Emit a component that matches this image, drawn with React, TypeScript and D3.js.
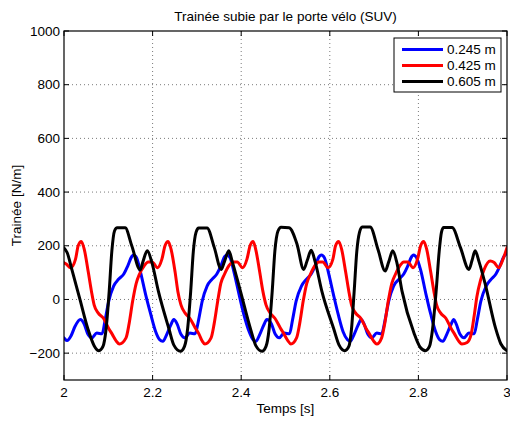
import React, { useEffect } from 'react';
import * as d3 from 'd3';

const title = 'Trainée subie par le porte vélo (SUV)';
const xLabel = 'Temps [s]';
const yLabel = 'Trainée [N/m]';
const xTicks = [2, 2.2, 2.4, 2.6, 2.8, 3];
const xTickLabels = ['2', '2.2', '2.4', '2.6', '2.8', '3'];
const yTicks = [-200, 0, 200, 400, 600, 800, 1000];
const yTickLabels = ['\u2212200', '0', '200', '400', '600', '800', '1000'];
const seriesNames = ['0.245 m', '0.425 m', '0.605 m'];
const seriesColors = ['#0000ff', '#ff0000', '#000000'];

const blueT = [2.000, 2.007, 2.016, 2.025, 2.037, 2.045, 2.054, 2.063, 2.074, 2.086, 2.093, 2.101,
  2.112, 2.123, 2.135, 2.144, 2.153, 2.157, 2.164, 2.173, 2.184, 2.196, 2.207, 2.216, 2.223, 2.232, 2.241, 2.248,
  2.255, 2.264, 2.273, 2.284, 2.296, 2.304, 2.312, 2.323, 2.334, 2.345, 2.354, 2.363, 2.368, 2.375, 2.384, 2.395,
  2.406, 2.418, 2.427, 2.433, 2.442, 2.451, 2.458,
  2.468, 2.477, 2.486, 2.497, 2.509, 2.516, 2.524, 2.536, 2.547, 2.558, 2.567, 2.576, 2.581, 2.588, 2.597, 2.608,
  2.619, 2.630, 2.640, 2.646, 2.655, 2.664, 2.671,
  2.677, 2.686, 2.695, 2.706, 2.717, 2.725, 2.733, 2.744, 2.756, 2.767, 2.776, 2.785, 2.789, 2.796, 2.805, 2.817,
  2.828, 2.839, 2.848, 2.855, 2.864, 2.873, 2.880,
  2.885, 2.894, 2.903, 2.914, 2.926, 2.933, 2.941, 2.953, 2.964, 2.975, 2.984, 2.993, 3.000];
const blueV = [-143, -153, -135, -100, -75, -90, -130, -143, -125, -128, -75, -6,
  50, 75, 95, 125, 160, 166, 155, 100, 20, -56, -120, -150, -156, -130, -95, -75,
  -90, -130, -143, -125, -128, -75, -6, 50, 75, 95, 125, 160, 166, 155, 100, 20,
  -56, -120, -150, -156, -130, -95, -75,
  -90, -130, -143, -125, -128, -75, -6, 50, 75, 95, 125, 160, 166, 155, 100, 20,
  -56, -120, -150, -156, -130, -95, -75,
  -90, -130, -143, -125, -128, -75, -6, 50, 75, 95, 125, 160, 166, 155, 110, 20,
  -56, -120, -150, -156, -130, -95, -75,
  -90, -130, -143, -125, -128, -75, -6, 50, 75, 95, 125, 160, 172];

const redT = [2.000, 2.005, 2.015, 2.026, 2.032, 2.039, 2.046, 2.055, 2.062, 2.068, 2.077, 2.089, 2.100, 2.109, 2.118, 2.125,
  2.140, 2.147, 2.155, 2.163, 2.170, 2.181, 2.190, 2.199, 2.211, 2.221, 2.228, 2.235, 2.242, 2.251, 2.257, 2.264,
  2.273, 2.284, 2.296, 2.305, 2.312, 2.318,
  2.332, 2.339, 2.347, 2.354, 2.362, 2.372, 2.381, 2.391, 2.403, 2.413, 2.420, 2.427, 2.433, 2.442, 2.449, 2.456,
  2.465, 2.476, 2.488, 2.497, 2.506, 2.512,
  2.525, 2.532, 2.540, 2.548, 2.556, 2.566, 2.575, 2.584, 2.596, 2.607, 2.613, 2.620, 2.627, 2.636, 2.643, 2.649,
  2.658, 2.670, 2.681, 2.690, 2.699, 2.706,
  2.717, 2.724, 2.732, 2.740, 2.748, 2.758, 2.767, 2.776, 2.788, 2.798, 2.805, 2.812, 2.819, 2.828, 2.835, 2.841,
  2.850, 2.862, 2.873, 2.882, 2.891, 2.898,
  2.910, 2.919, 2.926, 2.932, 2.940, 2.948, 2.962, 2.971, 2.981, 2.991, 3.000];
const redV = [137, 132, 118, 150, 200, 216, 185, 100, 30, -20, -50, -70, -105, -130, -155, -166,
  -143, -90, -6, 60, 93, 125, 140, 140, 118, 150, 200, 216, 185, 100, 30, -20,
  -50, -70, -105, -130, -155, -166,
  -143, -90, -6, 60, 93, 125, 140, 140, 118, 150, 200, 216, 185, 100, 30, -20,
  -50, -70, -105, -130, -155, -166,
  -143, -90, -6, 60, 93, 125, 140, 140, 118, 150, 200, 216, 185, 100, 30, -20,
  -50, -70, -105, -130, -155, -166,
  -143, -90, -6, 60, 93, 125, 140, 140, 118, 150, 200, 216, 185, 100, 30, -20,
  -50, -70, -105, -130, -155, -166,
  -160, -130, -60, 10, 70, 110, 143, 138, 118, 150, 193];

const blackT = [2.000, 2.007, 2.018, 2.036, 2.054, 2.068,
  2.079, 2.088, 2.095, 2.102, 2.108, 2.114, 2.120, 2.138, 2.153, 2.172, 2.178, 2.188, 2.198, 2.213, 2.237, 2.248,
  2.263, 2.272, 2.279, 2.286, 2.292, 2.298, 2.304, 2.323, 2.339, 2.355, 2.362, 2.372, 2.380, 2.396, 2.422, 2.433,
  2.447, 2.456, 2.463, 2.470, 2.476, 2.483, 2.490, 2.508, 2.526, 2.541, 2.549, 2.558, 2.567, 2.582, 2.609, 2.621,
  2.634, 2.643, 2.649, 2.655, 2.661, 2.667, 2.673, 2.691, 2.709, 2.725, 2.733, 2.742, 2.751, 2.763, 2.790, 2.804,
  2.816, 2.825, 2.832, 2.840, 2.847, 2.852, 2.857, 2.876, 2.895, 2.914, 2.921, 2.928, 2.937, 2.951, 2.974, 2.986, 3.000];
const blackV = [192, 175, 110, 0, -110, -172,
  -191, -175, -110, 30, 180, 255, 267, 267, 200, 110, 140, 181, 140, 31, -110, -170,
  -193, -175, -110, 30, 180, 250, 266, 266, 195, 112, 140, 181, 140, 45, -115, -172,
  -193, -175, -110, 30, 180, 255, 269, 267, 206, 112, 145, 183, 140, 31, -110, -170,
  -191, -175, -110, 30, 180, 250, 270, 270, 185, 106, 140, 181, 140, 31, -125, -178,
  -191, -175, -110, 30, 180, 250, 268, 268, 193, 112, 145, 181, 140, 56, -106, -165, -191];

const seriesT = [blueT, redT, blackT];
const seriesV = [blueV, redV, blackV];

const W = 510;
const H = 421;
const L = 64, R = 507, T = 31, B = 380;
const FONT = 'Liberation Sans, Arial, Helvetica, sans-serif';

export default function App() {
  useEffect(() => {
    document.body.style.margin = '0';
  }, []);
  const x = d3.scaleLinear().domain([2, 3]).range([L, R]);
  const y = d3.scaleLinear().domain([-300, 1000]).range([B, T]);
  const line = d3.line<[number, number]>()
    .x(d => x(d[0]))
    .y(d => y(d[1]))
    .curve(d3.curveMonotoneX);
  const tickLen = 5;
  const legX = 394, legY = 38, legW = 107, legH = 54;
  return (
    <div style={{ position: 'absolute', left: 0, top: 0 }}>
      <svg width={W} height={H} style={{ display: 'block', background: '#fff' }} fontFamily={FONT}>
        <rect x={0} y={0} width={W} height={H} fill="#fff" />
        <defs>
          <clipPath id="plotclip">
            <rect x={L} y={T} width={R - L} height={B - T} />
          </clipPath>
        </defs>
        {xTicks.map((t, i) => (
          i > 0 && i < xTicks.length - 1 ? (
            <line key={'gx' + i} x1={x(t)} x2={x(t)} y1={T} y2={B} stroke="#7a7a7a" strokeWidth={1} strokeDasharray="1,3" />
          ) : null
        ))}
        {yTicks.map((t, i) => (
          t !== 1000 ? (
            <line key={'gy' + i} x1={L} x2={R} y1={y(t)} y2={y(t)} stroke="#7a7a7a" strokeWidth={1} strokeDasharray="1,3" />
          ) : null
        ))}
        <g clipPath="url(#plotclip)">
          {seriesT.map((ts, si) => {
            const pts: [number, number][] = ts.map((t, k) => [t, seriesV[si][k]]);
            return (
              <path key={'s' + si} d={line(pts) || ''} fill="none" stroke={seriesColors[si]} strokeWidth={3} strokeLinejoin="round" strokeLinecap="round" />
            );
          })}
        </g>
        <rect x={L} y={T} width={R - L} height={B - T} fill="none" stroke="#000" strokeWidth={1.2} />
        {xTicks.map((t, i) => (
          <g key={'tx' + i}>
            <line x1={x(t)} x2={x(t)} y1={B} y2={B - tickLen} stroke="#000" strokeWidth={1} />
            <line x1={x(t)} x2={x(t)} y1={T} y2={T + tickLen} stroke="#000" strokeWidth={1} />
            <text x={x(t)} y={397} fontSize={13.5} textAnchor="middle" fill="#000">{xTickLabels[i]}</text>
          </g>
        ))}
        {yTicks.map((t, i) => (
          <g key={'ty' + i}>
            <line x1={L} x2={L + tickLen} y1={y(t)} y2={y(t)} stroke="#000" strokeWidth={1} />
            <line x1={R} x2={R - tickLen} y1={y(t)} y2={y(t)} stroke="#000" strokeWidth={1} />
            <text x={60} y={y(t) + 4.5} fontSize={13.5} textAnchor="end" fill="#000">{yTickLabels[i]}</text>
          </g>
        ))}
        <text x={(L + R) / 2} y={21} fontSize={13.5} textAnchor="middle" fill="#000">{title}</text>
        <text x={(L + R) / 2} y={413} fontSize={13.5} textAnchor="middle" fill="#000">{xLabel}</text>
        <text transform={`translate(21,${(T + B) / 2}) rotate(-90)`} fontSize={13.5} textAnchor="middle" fill="#000">{yLabel}</text>
        <rect x={legX} y={legY} width={legW} height={legH} fill="#fff" stroke="#000" strokeWidth={1} />
        {seriesNames.map((n, i) => (
          <g key={'lg' + i}>
            <line x1={402} x2={443} y1={49.5 + i * 16} y2={49.5 + i * 16} stroke={seriesColors[i]} strokeWidth={3} />
            <text x={447} y={49.5 + i * 16 + 4.5} fontSize={13.5} fill="#000">{n}</text>
          </g>
        ))}
      </svg>
    </div>
  );
}
